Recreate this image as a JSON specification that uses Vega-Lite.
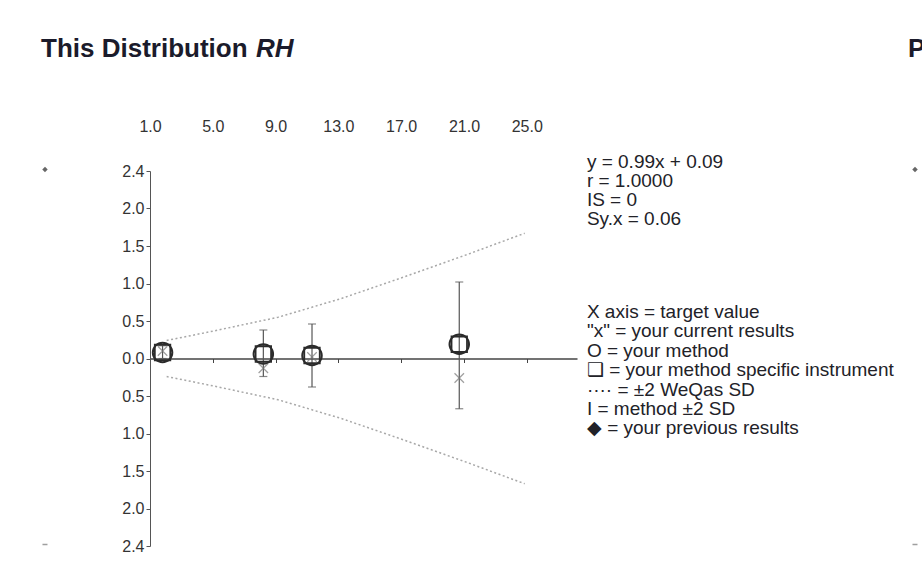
{
  "$schema": "https://vega.github.io/schema/vega-lite/v6.json",
  "width": 427,
  "height": 375,
  "autosize": {"type": "none"},
  "padding": {"left": 150, "top": 171, "right": 345, "bottom": 31},
  "background": "white",
  "config": {"view": {"stroke": null}, "font": "Liberation Sans"},
  "datasets": {
    "results": [
      {"target": 1.8, "method": 0.08, "lo": 0.0, "hi": 0.17, "current": 0.1},
      {"target": 8.22, "method": 0.06, "lo": -0.24, "hi": 0.38, "current": -0.13},
      {"target": 11.32, "method": 0.04, "lo": -0.38, "hi": 0.46, "current": 0.02},
      {"target": 20.7, "method": 0.19, "lo": -0.67, "hi": 1.02, "current": -0.26}
    ],
    "weqas": [
      {"target": 2.06, "band": "upper", "value": 0.24},
      {"target": 5.13, "band": "upper", "value": 0.37},
      {"target": 9.16, "band": "upper", "value": 0.55},
      {"target": 13.19, "band": "upper", "value": 0.8},
      {"target": 17.22, "band": "upper", "value": 1.09},
      {"target": 21.25, "band": "upper", "value": 1.39},
      {"target": 24.87, "band": "upper", "value": 1.67},
      {"target": 2.06, "band": "lower", "value": -0.24},
      {"target": 5.13, "band": "lower", "value": -0.37},
      {"target": 9.16, "band": "lower", "value": -0.55},
      {"target": 13.19, "band": "lower", "value": -0.8},
      {"target": 17.22, "band": "lower", "value": -1.09},
      {"target": 21.25, "band": "lower", "value": -1.39},
      {"target": 24.87, "band": "lower", "value": -1.67}
    ],
    "previous_top": [
      {"target": -5.69, "value": 2.52},
      {"target": 49.73, "value": 2.52}
    ],
    "previous_bottom": [
      {"target": -5.69, "value": -2.48},
      {"target": 49.73, "value": -2.48}
    ]
  },
  "resolve": {"axis": {"x": "independent"}},
  "layer": [
    {
      "data": {"name": "weqas"},
      "mark": {"type": "line", "strokeDash": [2, 2.5], "strokeWidth": 1.5, "color": "#a8a8a8"},
      "encoding": {
        "x": {
          "field": "target",
          "type": "quantitative",
          "scale": {"domain": [1, 28.2], "nice": false, "zero": false},
          "axis": {
            "orient": "top",
            "title": null,
            "values": [1, 5, 9, 13, 17, 21, 25],
            "tickCount": 20,
            "format": ".1f",
            "domain": false,
            "ticks": false,
            "tickSize": 0,
            "grid": false,
            "labelPadding": 0,
            "offset": 37,
            "labelFontSize": 16,
            "labelColor": "#333333",
            "labelFont": "Liberation Sans",
            "labelOverlap": false,
            "labelFlush": false
          }
        },
        "y": {
          "field": "value",
          "type": "quantitative",
          "scale": {"domain": [-2.5, 2.5], "nice": false, "zero": false},
          "axis": {
            "title": null,
            "grid": false,
            "values": [-2.5, -2, -1.5, -1, -0.5, 0, 0.5, 1, 1.5, 2, 2.5],
            "tickCount": 20,
            "labelExpr": "abs(datum.value) == 2.5 ? '2.4' : format(abs(datum.value), '.1f')",
            "domainColor": "#555555",
            "tickColor": "#555555",
            "tickSize": 4,
            "labelPadding": 2,
            "labelFontSize": 16,
            "labelColor": "#333333",
            "labelFont": "Liberation Sans",
            "labelOverlap": false,
            "labelFlush": false
          }
        },
        "detail": {"field": "band"}
      }
    },
    {
      "data": {"name": "results"},
      "mark": {"type": "rule", "color": "#555555", "strokeWidth": 1.2},
      "encoding": {
        "x": {
          "field": "target",
          "type": "quantitative",
          "axis": {
            "orient": "bottom",
            "title": null,
            "offset": -187.5,
            "labels": false,
            "grid": false,
            "values": [5, 9, 13, 17, 21, 25],
            "tickCount": 20,
            "tickSize": 4,
            "tickColor": "#444444",
            "domainColor": "#444444",
            "domainWidth": 1.5
          }
        },
        "y": {"field": "lo", "type": "quantitative"},
        "y2": {"field": "hi"}
      }
    },
    {
      "data": {"name": "results"},
      "mark": {"type": "tick", "orient": "horizontal", "size": 8, "thickness": 1.2, "color": "#555555"},
      "encoding": {
        "x": {"field": "target", "type": "quantitative", "axis": null},
        "y": {"field": "lo", "type": "quantitative"}
      }
    },
    {
      "data": {"name": "results"},
      "mark": {"type": "tick", "orient": "horizontal", "size": 8, "thickness": 1.2, "color": "#555555"},
      "encoding": {
        "x": {"field": "target", "type": "quantitative", "axis": null},
        "y": {"field": "hi", "type": "quantitative"}
      }
    },
    {
      "data": {"name": "results"},
      "mark": {"type": "point", "shape": "M-1,-1L1,1M1,-1L-1,1", "size": 90, "filled": false, "stroke": "#777777", "strokeWidth": 1.2},
      "encoding": {
        "x": {"field": "target", "type": "quantitative", "axis": null},
        "y": {"field": "current", "type": "quantitative"}
      }
    },
    {
      "data": {"name": "results"},
      "mark": {"type": "point", "shape": "circle", "size": 380, "filled": false, "stroke": "#2b2b2b", "strokeWidth": 2, "opacity": 1},
      "encoding": {
        "x": {"field": "target", "type": "quantitative", "axis": null},
        "y": {"field": "method", "type": "quantitative"}
      }
    },
    {
      "data": {"name": "results"},
      "mark": {"type": "point", "shape": "square", "size": 240, "filled": false, "stroke": "#2b2b2b", "strokeWidth": 1.8, "opacity": 1},
      "encoding": {
        "x": {"field": "target", "type": "quantitative", "axis": null},
        "y": {"field": "method", "type": "quantitative"}
      }
    },
    {
      "data": {"name": "previous_top"},
      "mark": {"type": "point", "shape": "diamond", "size": 30, "filled": true, "color": "#666666", "opacity": 1},
      "encoding": {
        "x": {"field": "target", "type": "quantitative", "axis": null},
        "y": {"field": "value", "type": "quantitative"}
      }
    },
    {
      "data": {"name": "previous_bottom"},
      "mark": {"type": "point", "shape": "M-1,0L1,0", "size": 25, "filled": false, "stroke": "#777777", "strokeWidth": 1.5},
      "encoding": {
        "x": {"field": "target", "type": "quantitative", "axis": null},
        "y": {"field": "value", "type": "quantitative"}
      }
    },
    {
      "data": {"values": [{"lines": ["y = 0.99x + 0.09", "r = 1.0000", "IS = 0", "Sy.x = 0.06"]}]},
      "mark": {"type": "text", "align": "left", "baseline": "alphabetic", "fontSize": 19, "lineHeight": 19, "color": "#222228", "font": "Liberation Sans"},
      "encoding": {
        "x": {"datum": 28.83, "type": "quantitative", "axis": null},
        "y": {"datum": 2.54, "type": "quantitative"},
        "text": {"field": "lines"}
      }
    },
    {
      "data": {"values": [{"lines": ["X axis = target value", "\"x\" = your current results", "O = your method", "❑ = your method specific instrument", "···· = ±2 WeQas SD", "I = method ±2 SD", "◆ = your previous results"]}]},
      "mark": {"type": "text", "align": "left", "baseline": "alphabetic", "fontSize": 19, "lineHeight": 19.4, "color": "#222228", "font": "Liberation Sans"},
      "encoding": {
        "x": {"datum": 28.83, "type": "quantitative", "axis": null},
        "y": {"datum": 0.54, "type": "quantitative"},
        "text": {"field": "lines"}
      }
    },
    {
      "data": {"values": [{"label": "This Distribution"}]},
      "mark": {"type": "text", "align": "left", "baseline": "alphabetic", "fontSize": 26, "fontWeight": "bold", "color": "#1b1b2b", "font": "Liberation Sans"},
      "encoding": {
        "x": {"datum": -5.94, "type": "quantitative", "axis": null},
        "y": {"datum": 4.02, "type": "quantitative"},
        "text": {"field": "label"}
      }
    },
    {
      "data": {"values": [{"label": "RH"}]},
      "mark": {"type": "text", "align": "left", "baseline": "alphabetic", "fontSize": 26, "fontWeight": "bold", "fontStyle": "italic", "color": "#1b1b2b", "font": "Liberation Sans"},
      "encoding": {
        "x": {"datum": 7.75, "type": "quantitative", "axis": null},
        "y": {"datum": 4.02, "type": "quantitative"},
        "text": {"field": "label"}
      }
    },
    {
      "data": {"values": [{"label": "P"}]},
      "mark": {"type": "text", "align": "left", "baseline": "alphabetic", "fontSize": 26, "fontWeight": "bold", "color": "#1b1b2b", "font": "Liberation Sans"},
      "encoding": {
        "x": {"datum": 49.28, "type": "quantitative", "axis": null},
        "y": {"datum": 4.02, "type": "quantitative"},
        "text": {"field": "label"}
      }
    }
  ]
}
